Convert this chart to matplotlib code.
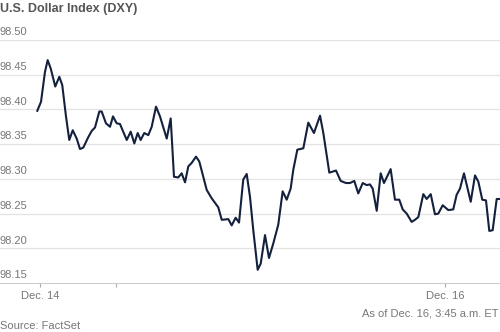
import matplotlib
matplotlib.use("Agg")
import matplotlib.pyplot as plt
import matplotlib.transforms as mtransforms

# hours from Dec. 14 (x position on the chart), DXY value
hours = [-0.32, 0.12, 0.59, 0.91, 1.27, 1.81, 2.29, 2.64, 3.08, 3.47,
         3.88, 4.35, 4.74, 5.13, 5.72, 6.13, 6.52, 7.03, 7.31, 7.82,
         8.30, 8.65, 9.09, 9.48, 10.28, 10.75, 11.18, 11.58, 11.93, 12.36,
         12.84, 13.24, 13.75, 14.22, 15.02, 15.49, 15.88, 16.39, 16.79, 17.19,
         17.58, 17.98, 18.49, 18.88, 19.76, 20.35, 21.13, 21.54, 22.32, 22.72,
         23.19, 23.59, 24.09, 24.50, 24.89, 25.28, 25.80, 26.16, 26.67, 27.14,
         27.65, 28.24, 28.76, 29.24, 29.71, 30.02, 30.50, 31.21, 31.80, 32.47,
         33.19, 33.58, 34.29, 34.57, 35.08, 35.64, 36.27, 36.74, 37.25, 37.72,
         38.25, 38.72, 39.11, 39.43, 39.91, 40.38, 40.77, 41.56, 42.07, 42.58,
         42.99, 43.46, 44.05, 44.44, 44.84, 45.43, 45.83, 46.31, 46.81, 47.21,
         47.73, 48.39, 48.98, 49.38, 49.78, 50.25, 51.05, 51.56, 51.95, 52.42,
         52.86, 53.25, 53.65, 54.13, 54.45]
dxy = [98.398, 98.411, 98.454, 98.471, 98.459, 98.433, 98.447, 98.435, 98.390, 98.356,
       98.370, 98.358, 98.343, 98.345, 98.360, 98.369, 98.374, 98.397, 98.397, 98.380,
       98.375, 98.390, 98.380, 98.379, 98.356, 98.368, 98.351, 98.366, 98.356, 98.366,
       98.363, 98.375, 98.404, 98.390, 98.358, 98.387, 98.303, 98.302, 98.308, 98.295,
       98.318, 98.323, 98.332, 98.325, 98.284, 98.272, 98.259, 98.241, 98.242, 98.233,
       98.244, 98.237, 98.299, 98.307, 98.274, 98.226, 98.169, 98.178, 98.219, 98.186,
       98.207, 98.234, 98.282, 98.270, 98.286, 98.313, 98.342, 98.344, 98.381, 98.366,
       98.391, 98.366, 98.309, 98.310, 98.312, 98.297, 98.294, 98.294, 98.297, 98.279,
       98.294, 98.291, 98.292, 98.286, 98.254, 98.308, 98.294, 98.314, 98.270, 98.270,
       98.256, 98.250, 98.238, 98.241, 98.245, 98.278, 98.271, 98.278, 98.249, 98.250,
       98.262, 98.255, 98.256, 98.277, 98.286, 98.308, 98.267, 98.305, 98.296, 98.270,
       98.269, 98.225, 98.226, 98.271, 98.271]

y_ticks = [98.15, 98.20, 98.25, 98.30, 98.35, 98.40, 98.45, 98.50]
x_ticks = [0, 9, 48]
x_labels = ["Dec. 14", "", "Dec. 16"]

plt.rcParams["font.family"] = ["Liberation Sans", "DejaVu Sans"]

fig = plt.figure(figsize=(5.0, 3.32), dpi=100)
ax = fig.add_axes([0.0, 49 / 332, 1.0, 243 / 332])

ax.plot(hours, dxy, color="#14213d", linewidth=1.5, clip_on=False, zorder=3)

ax.set_xlim(-4.74, 54.52)
ax.set_ylim(98.15, 98.50)

for s in ["top", "right", "left"]:
    ax.spines[s].set_visible(False)
ax.spines["bottom"].set_color("#cccccc")
ax.spines["bottom"].set_linewidth(0.8)

for v in y_ticks[1:]:
    ax.axhline(v, color="#e3e3e3", linewidth=0.9, zorder=1)

ax.set_yticks([])
ax.set_xticks(x_ticks)
ax.set_xticklabels(x_labels)
ax.tick_params(axis="x", length=3, width=0.8, color="#aaaaaa",
               labelcolor="#777777", labelsize=8, pad=3)

trans = mtransforms.blended_transform_factory(ax.transAxes, ax.transData)
for v in y_ticks:
    ax.annotate(f"{v:.2f}", xy=(0, v), xycoords=trans, xytext=(0, 2),
                textcoords="offset points", ha="left", va="bottom",
                fontsize=8, color="#777777")

fig.text(0.0, 1 - 9 / 332, "U.S. Dollar Index (DXY)", ha="left", va="center",
         fontsize=9, fontweight="bold", color="#555555")
fig.text(0.998, 1 - 313 / 332, "As of Dec. 16, 3:45 a.m. ET", ha="right",
         va="center", fontsize=8, color="#777777")
fig.text(0.0, 1 - 326 / 332, "Source: FactSet", ha="left", va="center",
         fontsize=8, color="#777777")

fig.savefig("out.png", dpi=100)
